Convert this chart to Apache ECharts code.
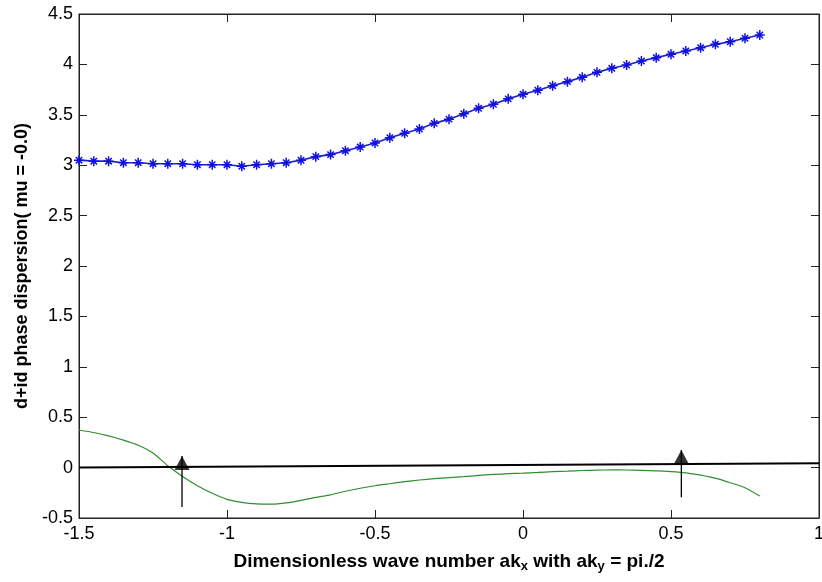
<!DOCTYPE html>
<html>
<head>
<meta charset="utf-8">
<script src="https://cdn.jsdelivr.net/npm/echarts@6/dist/echarts.min.js"></script>
<style>
html,body{margin:0;padding:0;background:#fff;}
#chart{width:822px;height:582px;}
</style>
</head>
<body>
<div id="chart"></div>
<script>
// x positions of the sampled wave numbers
var kx = [-1.5,-1.45,-1.4,-1.35,-1.3,-1.25,-1.2,-1.15,-1.1,-1.05,-1.0,-0.95,-0.9,-0.85,-0.8,-0.75,-0.7,-0.65,-0.6,-0.55,-0.5,-0.45,-0.4,-0.35,-0.3,-0.25,-0.2,-0.15,-0.1,-0.05,0,0.05,0.1,0.15,0.2,0.25,0.3,0.35,0.4,0.45,0.5,0.55,0.6,0.65,0.7,0.75,0.8];
// upper branch (blue stars)
var blueY = [3.05,3.04,3.04,3.025,3.025,3.015,3.015,3.015,3.005,3.005,3.005,2.99,3.005,3.015,3.025,3.05,3.085,3.105,3.144,3.18,3.22,3.273,3.317,3.359,3.415,3.457,3.51,3.564,3.605,3.658,3.703,3.744,3.789,3.829,3.872,3.921,3.961,3.994,4.034,4.067,4.10,4.133,4.166,4.199,4.225,4.259,4.292];
// lower curve (green)
var greenY = [0.373,0.348,0.315,0.272,0.222,0.145,0.018,-0.088,-0.18,-0.255,-0.315,-0.345,-0.36,-0.362,-0.35,-0.325,-0.295,-0.27,-0.235,-0.205,-0.18,-0.16,-0.14,-0.123,-0.11,-0.1,-0.09,-0.078,-0.068,-0.06,-0.055,-0.048,-0.04,-0.035,-0.029,-0.025,-0.023,-0.024,-0.027,-0.032,-0.04,-0.052,-0.075,-0.105,-0.15,-0.2,-0.282];
// black reference line
var blackX = [-1.5, 1.0];
var blackY = [0.0, 0.043];
// arrows
var arrowX = [-1.152, 0.535];
var arrowBase = [-0.39, -0.295];
var arrowTip = [0.115, 0.175];
// ticks
var xMin = -1.5, xMax = 1, xStep = 0.5;
var yMin = -0.5, yMax = 4.5, yStep = 0.5;

function zip(a, b){ return a.map(function(v,i){ return [v, b[i]]; }); }

var font = 'Liberation Sans, Arial, Helvetica, sans-serif';
var chart = echarts.init(document.getElementById('chart'));

var series = [
  {
    type: 'line', data: zip(blackX, blackY), symbol: 'none',
    lineStyle: {color: '#000', width: 2}, silent: true, z: 3
  },
  {
    type: 'line', data: zip(kx, greenY), symbol: 'none', smooth: 0.2,
    lineStyle: {color: '#2f8f2f', width: 1.2}, silent: true, z: 2
  },
  {
    type: 'line', data: zip(kx, blueY),
    symbol: 'path://M5 0L5 10M0 5L10 5M1.8 1.8L8.2 8.2M1.8 8.2L8.2 1.8',
    symbolSize: 10, showSymbol: true,
    itemStyle: {color: 'rgba(0,0,0,0)', borderColor: '#1010e0', borderWidth: 1.5},
    lineStyle: {color: '#2020d0', width: 1.6}, silent: true, z: 4
  }
];
arrowX.forEach(function(x, i){
  series.push({
    type: 'line', data: [[x, arrowBase[i]], [x, arrowTip[i]]], symbol: 'none',
    lineStyle: {color: '#000', width: 1.3}, silent: true, z: 5
  });
  series.push({
    type: 'scatter', data: [[x, arrowTip[i]]], symbol: 'triangle',
    symbolSize: [15, 14], symbolOffset: [0, 7],
    itemStyle: {color: '#000'}, silent: true, z: 6
  });
});

function axisLineCfg(){ return {show: true, onZero: false, lineStyle: {color: '#222'}}; }
function tickCfg(){ return {show: true, inside: true, length: 8, lineStyle: {color: '#222'}}; }

chart.setOption({
  animation: false,
  backgroundColor: '#fff',
  grid: {left: 79, right: 3, top: 14, bottom: 64, show: true, borderColor: '#222', borderWidth: 1,
         containLabel: false, outerBoundsMode: 'none'},
  xAxis: [
    {
      type: 'value', min: xMin, max: xMax, interval: xStep, position: 'bottom',
      axisLine: axisLineCfg(), axisTick: tickCfg(),
      axisLabel: {color: '#000', fontSize: 18, fontFamily: font, margin: 7, hideOverlap: false},
      splitLine: {show: false},
      name: '{b|Dimensionless wave number ak}{s|x}{b| with ak}{s|y}{b| = pi./2}',
      nameLocation: 'middle', nameGap: 32,
      nameTextStyle: {
        rich: {
          b: {fontSize: 19, fontWeight: 'bold', fontFamily: font, color: '#000'},
          s: {fontSize: 13, fontWeight: 'bold', fontFamily: font, color: '#000', verticalAlign: 'bottom', padding: [10, 0, 0, 0]}
        }
      }
    },
    {
      type: 'value', min: xMin, max: xMax, interval: xStep, position: 'top',
      axisLine: axisLineCfg(), axisTick: tickCfg(),
      axisLabel: {show: false}, splitLine: {show: false}
    }
  ],
  yAxis: [
    {
      type: 'value', min: yMin, max: yMax, interval: yStep, position: 'left',
      axisLine: axisLineCfg(), axisTick: tickCfg(),
      axisLabel: {color: '#000', fontSize: 18, fontFamily: font, margin: 6},
      splitLine: {show: false},
      name: 'd+id phase dispersion( mu = -0.0)',
      nameLocation: 'middle', nameGap: 46, nameRotate: 90,
      nameTextStyle: {fontSize: 18, fontWeight: 'bold', fontFamily: font, color: '#000'}
    },
    {
      type: 'value', min: yMin, max: yMax, interval: yStep, position: 'right',
      axisLine: axisLineCfg(), axisTick: tickCfg(),
      axisLabel: {show: false}, splitLine: {show: false}
    }
  ],
  series: series
});
</script>
</body>
</html>
